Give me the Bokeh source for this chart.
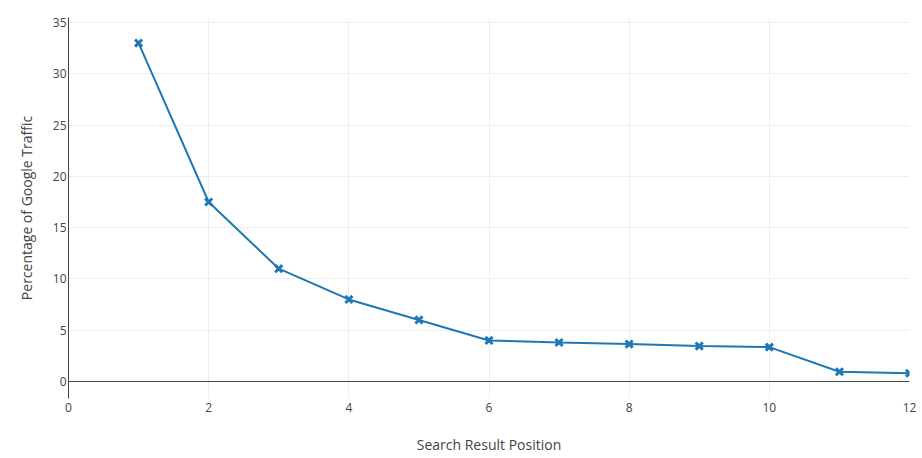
from bokeh.plotting import figure
from bokeh.models import Range1d, Span, FixedTicker
from bokeh.embed import file_html
from bokeh.resources import INLINE

positions = [1, 2, 3, 4, 5, 6, 7, 8, 9, 10, 11, 12]
traffic = [33, 17.5, 11, 8, 6, 4, 3.8, 3.65, 3.45, 3.35, 0.95, 0.8]
x_ticks = [0, 2, 4, 6, 8, 10, 12]
y_ticks = [0, 5, 10, 15, 20, 25, 30, 35]

FONT = "Open Sans"
TXT = "#444444"
BLUE = "#1f77b4"

p = figure(width=922, height=458, output_backend="svg", toolbar_location=None,
           x_range=Range1d(0, 12), y_range=Range1d(-1.66, 35.49),
           min_border_left=68, min_border_right=13, min_border_top=17,
           min_border_bottom=60)
p.outline_line_color = None
p.background_fill_color = "white"

p.line(positions, traffic, line_color=BLUE, line_width=2)
p.scatter(positions, traffic, marker="x", size=10, line_color=BLUE, line_width=3)

p.add_layout(Span(location=0, dimension="width", line_color=TXT, line_width=1))

p.xaxis.ticker = FixedTicker(ticks=x_ticks)
p.yaxis.ticker = FixedTicker(ticks=y_ticks)
p.xgrid.grid_line_color = "#eeeeee"
p.ygrid.grid_line_color = "#eeeeee"
p.xgrid.grid_line_width = 1
p.ygrid.grid_line_width = 1

for ax in (p.xaxis[0], p.yaxis[0]):
    ax.major_tick_line_color = None
    ax.minor_tick_line_color = None
    ax.major_tick_out = 0
    ax.major_tick_in = 0
    ax.minor_tick_out = 0
    ax.minor_tick_in = 0
    ax.major_label_text_font = FONT
    ax.major_label_text_font_size = "12px"
    ax.major_label_text_color = TXT
    ax.axis_label_text_font = FONT
    ax.axis_label_text_font_size = "14px"
    ax.axis_label_text_font_style = "normal"
    ax.axis_label_text_color = TXT

p.xaxis.axis_line_color = None
p.xaxis.axis_label = "Search Result Position"
p.xaxis.major_label_standoff = 4
p.xaxis.axis_label_standoff = 20

p.yaxis.axis_line_color = TXT
p.yaxis.axis_line_width = 1
p.yaxis.axis_label = "Percentage of Google Traffic"
p.yaxis.major_label_standoff = 2
p.yaxis.axis_label_standoff = 14

open("out.html", "w").write(file_html(p, INLINE))
